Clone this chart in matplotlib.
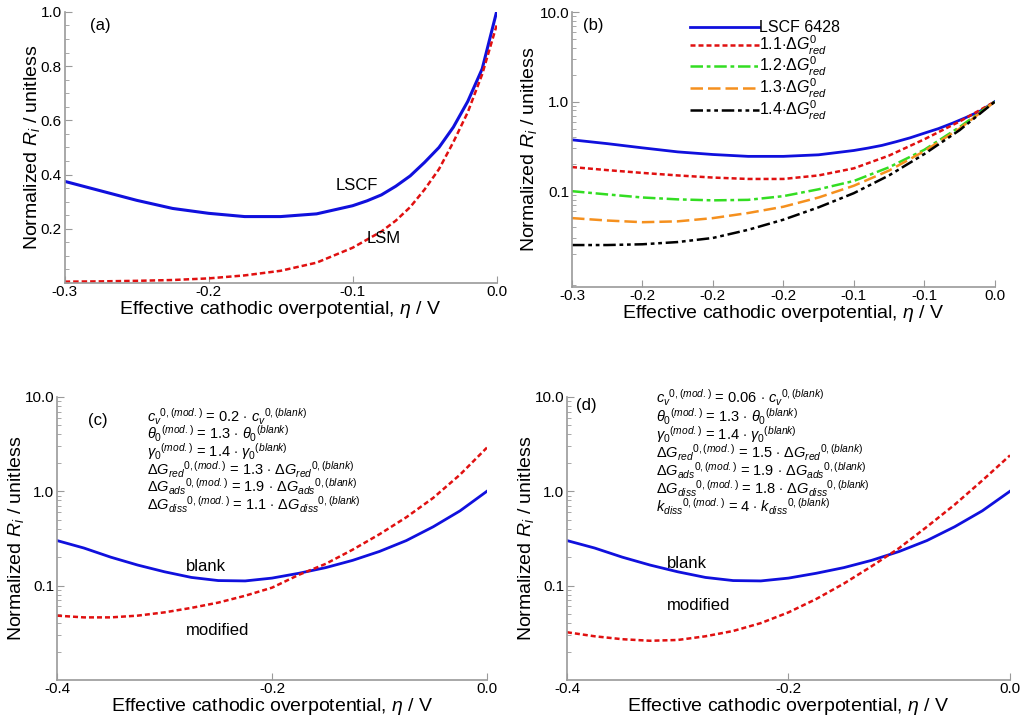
import numpy as np
import matplotlib
matplotlib.use('Agg')
import matplotlib.pyplot as plt
from matplotlib.ticker import FixedLocator, FixedFormatter, MultipleLocator, LogLocator, NullFormatter

plt.rcParams['font.family'] = ['Liberation Sans', 'DejaVu Sans']
plt.rcParams['mathtext.fontset'] = 'custom'
plt.rcParams['mathtext.rm'] = 'Liberation Sans'
plt.rcParams['mathtext.it'] = 'Liberation Sans:italic'
plt.rcParams['mathtext.bf'] = 'Liberation Sans:bold'

# ---- data ----
eta_ab = [-0.30, -0.275, -0.25, -0.225, -0.20, -0.175, -0.15, -0.125, -0.10, -0.09, -0.08, -0.07, -0.06,
          -0.05, -0.04, -0.03, -0.02, -0.01, 0.0]
lscf = [0.375, 0.34, 0.305, 0.275, 0.257, 0.245, 0.245, 0.255, 0.285, 0.303, 0.325, 0.357, 0.395,
        0.445, 0.50, 0.575, 0.67, 0.79, 1.0]
lsm = [0.005, 0.006, 0.008, 0.011, 0.017, 0.028, 0.045, 0.075, 0.13, 0.16, 0.19, 0.23, 0.28,
       0.345, 0.42, 0.52, 0.63, 0.77, 0.95]

eta_b = [-0.30, -0.275, -0.25, -0.225, -0.20, -0.175, -0.15, -0.125, -0.10, -0.075, -0.05, -0.025, 0.0]
dg11 = [0.186, 0.172, 0.16, 0.15, 0.142, 0.137, 0.137, 0.150, 0.18, 0.25, 0.38, 0.60, 1.0]
dg12 = [0.100, 0.092, 0.085, 0.081, 0.079, 0.080, 0.088, 0.105, 0.13, 0.185, 0.29, 0.52, 1.0]
dg13 = [0.050, 0.047, 0.045, 0.046, 0.050, 0.057, 0.067, 0.085, 0.115, 0.17, 0.28, 0.50, 1.0]
dg14 = [0.025, 0.025, 0.0255, 0.027, 0.030, 0.037, 0.048, 0.066, 0.095, 0.15, 0.26, 0.48, 1.0]
legend_b = ['LSCF 6428', r'1.1$\cdot\mathit{\Delta G^0_{red}}$', r'1.2$\cdot\mathit{\Delta G^0_{red}}$',
            r'1.3$\cdot\mathit{\Delta G^0_{red}}$', r'1.4$\cdot\mathit{\Delta G^0_{red}}$']
xticks_b = [-0.30, -0.25, -0.20, -0.15, -0.10, -0.05, 0.0]
xticklabels_b = ['-0.3', '-0.2', '-0.2', '-0.2', '-0.1', '-0.1', '0.0']

eta_cd = [-0.40, -0.375, -0.35, -0.325, -0.30, -0.275, -0.25, -0.225, -0.20, -0.175, -0.15, -0.125,
          -0.10, -0.075, -0.05, -0.025, 0.0]
blank = [0.30, 0.25, 0.20, 0.165, 0.14, 0.122, 0.113, 0.112, 0.12, 0.135, 0.155, 0.185,
         0.23, 0.30, 0.42, 0.62, 1.0]
mod_c = [0.048, 0.046, 0.046, 0.048, 0.052, 0.058, 0.066, 0.078, 0.095, 0.130, 0.17, 0.24,
         0.35, 0.53, 0.85, 1.5, 2.9]
mod_d = [0.032, 0.029, 0.027, 0.026, 0.0265, 0.029, 0.033, 0.040, 0.052, 0.072, 0.105, 0.16,
         0.25, 0.42, 0.72, 1.3, 2.4]

text_c = [r'$c_v{}^{0,(mod.)}$ = 0.2 $\cdot$ $c_v{}^{0,(blank)}$',
          r'$\theta_0{}^{(mod.)}$ = 1.3 $\cdot$ $\theta_0{}^{(blank)}$',
          r'$\gamma_0{}^{(mod.)}$ = 1.4 $\cdot$ $\gamma_0{}^{(blank)}$',
          r'$\Delta G_{red}{}^{0,(mod.)}$ = 1.3 $\cdot$ $\Delta G_{red}{}^{0,(blank)}$',
          r'$\Delta G_{ads}{}^{0,(mod.)}$ = 1.9 $\cdot$ $\Delta G_{ads}{}^{0,(blank)}$',
          r'$\Delta G_{diss}{}^{0,(mod.)}$ = 1.1 $\cdot$ $\Delta G_{diss}{}^{0,(blank)}$']
text_d = [r'$c_v{}^{0,(mod.)}$ = 0.06 $\cdot$ $c_v{}^{0,(blank)}$',
          r'$\theta_0{}^{(mod.)}$ = 1.3 $\cdot$ $\theta_0{}^{(blank)}$',
          r'$\gamma_0{}^{(mod.)}$ = 1.4 $\cdot$ $\gamma_0{}^{(blank)}$',
          r'$\Delta G_{red}{}^{0,(mod.)}$ = 1.5 $\cdot$ $\Delta G_{red}{}^{0,(blank)}$',
          r'$\Delta G_{ads}{}^{0,(mod.)}$ = 1.9 $\cdot$ $\Delta G_{ads}{}^{0,(blank)}$',
          r'$\Delta G_{diss}{}^{0,(mod.)}$ = 1.8 $\cdot$ $\Delta G_{diss}{}^{0,(blank)}$',
          r'$k_{diss}{}^{0,(mod.)}$ = 4 $\cdot$ $k_{diss}{}^{0,(blank)}$']

BLUE = '#1010dd'
RED = '#e01010'
GREEN = '#33dd22'
ORANGE = '#f5901e'
GREY = '#9a9a9a'
XLABEL = r'Effective cathodic overpotential, $\eta$ / V'
YLABEL = r'Normalized $R_i$ / unitless'


def style(ax, ylab_x):
  for s in ['top', 'right']:
    ax.spines[s].set_visible(False)
  for s in ['left', 'bottom']:
    ax.spines[s].set_color(GREY)
    ax.spines[s].set_linewidth(1.2)
  ax.tick_params(which='both', direction='in', color=GREY, labelsize=11)
  ax.tick_params(axis='x', pad=1.5)
  ax.tick_params(axis='y', pad=2)
  ax.tick_params(which='major', length=5)
  ax.tick_params(which='minor', length=3)
  ax.set_xlabel(XLABEL, fontsize=14, labelpad=0)
  ax.set_ylabel(YLABEL, fontsize=14)
  ax.yaxis.set_label_coords(ylab_x, 0.5)


def logy(ax, lo, hi):
  ax.set_yscale('log')
  ax.set_ylim(lo, hi)
  ax.yaxis.set_major_locator(FixedLocator([0.1, 1.0, 10.0]))
  ax.yaxis.set_major_formatter(FixedFormatter(['0.1', '1.0', '10.0']))
  ax.yaxis.set_minor_locator(LogLocator(base=10, subs=np.arange(2, 10)))
  ax.yaxis.set_minor_formatter(NullFormatter())


def main():
  fig = plt.figure(figsize=(10.26, 7.21), dpi=100)
  axA = fig.add_axes([0.063, 0.6075, 0.421, 0.376])
  axB = fig.add_axes([0.5575, 0.602, 0.412, 0.381])
  axC = fig.add_axes([0.0556, 0.057, 0.419, 0.3925])
  axD = fig.add_axes([0.5526, 0.057, 0.4318, 0.3925])

  # (a)
  axA.plot(eta_ab, lscf, color=BLUE, lw=2.2)
  axA.plot(eta_ab, lsm, color=RED, lw=1.8, ls=(0, (2.2, 1.2)))
  axA.set_xlim(-0.3, 0.0)
  axA.set_ylim(0, 1.0)
  axA.set_xticks([-0.3, -0.2, -0.1, 0.0])
  axA.set_xticklabels(['-0.3', '-0.2', '-0.1', '0.0'])
  axA.set_yticks([0.2, 0.4, 0.6, 0.8, 1.0])
  axA.set_yticklabels(['0.2', '0.4', '0.6', '0.8', '1.0'])
  axA.yaxis.set_minor_locator(MultipleLocator(0.05))
  style(axA, -0.052)
  axA.text(0.058, 0.95, '(a)', transform=axA.transAxes, fontsize=12, va='center')
  axA.text(-0.112, 0.36, 'LSCF', fontsize=12, va='center')
  axA.text(-0.09, 0.165, 'LSM', fontsize=12, va='center')

  # (b)
  axB.plot(eta_ab, lscf, color=BLUE, lw=2.0, label=legend_b[0])
  axB.plot(eta_b, dg11, color=RED, lw=1.8, ls=(0, (2.0, 1.2)), label=legend_b[1])
  axB.plot(eta_b, dg12, color=GREEN, lw=1.8, ls=(0, (5, 1.5, 1.5, 1.5)), label=legend_b[2])
  axB.plot(eta_b, dg13, color=ORANGE, lw=1.8, ls=(0, (5, 2)), label=legend_b[3])
  axB.plot(eta_b, dg14, color='black', lw=1.8, ls=(0, (5, 1.5, 1.5, 1.5, 1.5, 1.5)), label=legend_b[4])
  axB.set_xlim(-0.3, 0.0)
  logy(axB, 0.0085, 10.0)
  axB.set_xticks(xticks_b)
  axB.set_xticklabels(xticklabels_b)
  style(axB, -0.078)
  axB.text(0.025, 0.95, '(b)', transform=axB.transAxes, fontsize=12, va='center')
  axB.legend(loc='upper left', bbox_to_anchor=(0.26, 1.0), frameon=False, fontsize=11.5,
             handlelength=4.3, handletextpad=0.0, labelspacing=-0.1, borderaxespad=0.1)

  # (c)
  axC.plot(eta_cd, blank, color=BLUE, lw=2.0)
  axC.plot(eta_cd, mod_c, color=RED, lw=1.8, ls=(0, (2.0, 1.2)))
  axC.set_xlim(-0.4, 0.0)
  logy(axC, 0.01, 10.0)
  axC.set_xticks([-0.4, -0.2, 0.0])
  axC.set_xticklabels(['-0.4', '-0.2', '0.0'])
  style(axC, -0.072)
  axC.text(0.072, 0.915, '(c)', transform=axC.transAxes, fontsize=12, va='center')
  for k, t in enumerate(text_c):
    axC.text(0.21, 0.93 - k * 0.062, t, transform=axC.transAxes, fontsize=10.5, va='center')
  axC.text(-0.28, 0.16, 'blank', fontsize=12, va='center')
  axC.text(-0.28, 0.033, 'modified', fontsize=12, va='center')

  # (d)
  axD.plot(eta_cd, blank, color=BLUE, lw=2.0)
  axD.plot(eta_cd, mod_d, color=RED, lw=1.8, ls=(0, (2.0, 1.2)))
  axD.set_xlim(-0.4, 0.0)
  logy(axD, 0.01, 10.0)
  axD.set_xticks([-0.4, -0.2, 0.0])
  axD.set_xticklabels(['-0.4', '-0.2', '0.0'])
  style(axD, -0.07)
  axD.text(0.02, 0.97, '(d)', transform=axD.transAxes, fontsize=12, va='center')
  for k, t in enumerate(text_d):
    axD.text(0.2, 0.995 - k * 0.064, t, transform=axD.transAxes, fontsize=10.5, va='center')
  axD.text(-0.31, 0.17, 'blank', fontsize=12, va='center')
  axD.text(-0.31, 0.062, 'modified', fontsize=12, va='center')

  plt.savefig('out.png', dpi=100)


if __name__ == '__main__':
  main()
